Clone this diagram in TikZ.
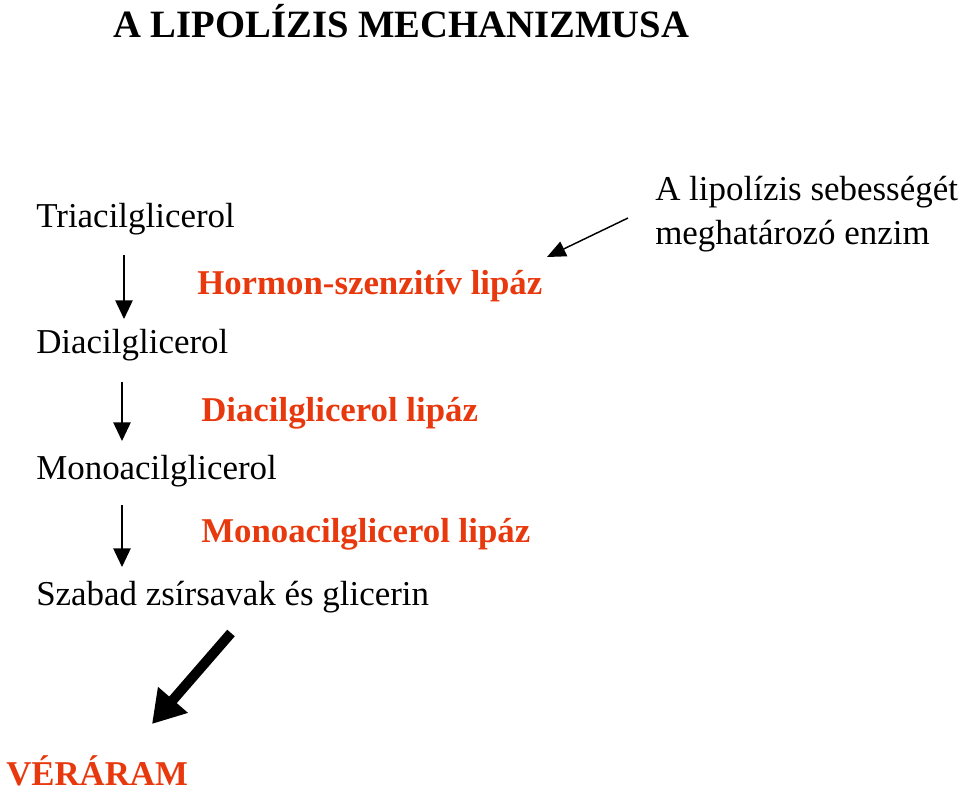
\documentclass[tikz,border=0pt]{standalone}
\usepackage{fontspec}
\setmainfont{Liberation Serif}
\usetikzlibrary{arrows.meta,positioning}
\definecolor{ink}{HTML}{000000}
\definecolor{enz}{HTML}{E8380D}
\tikzset{
  subst/.style={font=\fontsize{26.2}{30}\selectfont,text=ink,anchor=base west,inner sep=0pt},
  enzym/.style={font=\fontsize{26.1}{30}\selectfont\bfseries,text=enz,anchor=base west,inner sep=0pt},
  note/.style={font=\fontsize{26.2}{30}\selectfont,text=ink,anchor=base west,inner sep=0pt},
  step arrow/.style={ink,line width=1.2pt,-{Triangle[length=14pt,width=13pt]}},
  thin arrow/.style={ink,line width=1.1pt,-{Triangle[length=14pt,width=12pt]}},
  big arrow/.style={ink,line width=7.5pt,-{Triangle[length=24pt,width=28pt]}},
}
\begin{document}
\begin{tikzpicture}[x=0.75pt,y=-0.75pt]
  \useasboundingbox (0,0) rectangle (960,793);
  % title
  \node[font=\fontsize{29}{34}\selectfont\bfseries,anchor=base west,inner sep=0pt] (title) at (113,37) {A LIPOLÍZIS MECHANIZMUSA};
  % substrates
  \node[subst] (tri) at (36,227) {Triacilglicerol};
  \node[subst] (di) at (36,353) {Diacilglicerol};
  \node[subst] (mono) at (36,479) {Monoacilglicerol};
  \node[subst] (ffa) at (36,605) {Szabad zsírsavak és glicerin};
  % enzymes
  \node[enzym] (hsl) at (197,294) {Hormon-szenzitív lipáz};
  \node[enzym] (dgl) at (201,421) {Diacilglicerol lipáz};
  \node[enzym] (mgl) at (201,542) {Monoacilglicerol lipáz};
  \node[note] (rate1) at (655,200) {A lipolízis sebességét};
  \node[note] (rate2) at (655,244) {meghatározó enzim};
  \node[enzym] (blood) at (6,785) {VÉRÁRAM};
  % arrow ends
  \coordinate (a1) at (124,255); \coordinate (b1) at (124,319);
  \coordinate (a2) at (122,382); \coordinate (b2) at (122,441);
  \coordinate (a3) at (122,505); \coordinate (b3) at (122,567);
  \coordinate (n1) at (628,218); \coordinate (n2) at (547,257);
  \coordinate (v1) at (231,633); \coordinate (v2) at (152,724);
  \draw[step arrow] (a1) -- (b1);
  \draw[step arrow] (a2) -- (b2);
  \draw[step arrow] (a3) -- (b3);
  \draw[thin arrow] (n1) -- (n2);
  \draw[big arrow] (v1) -- (v2);
\end{tikzpicture}
\end{document}
